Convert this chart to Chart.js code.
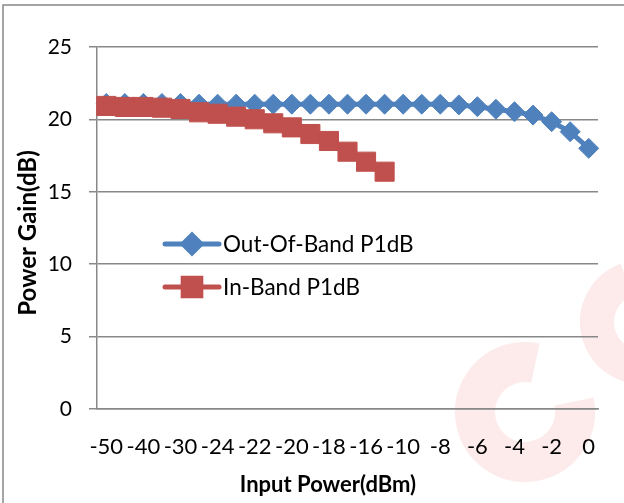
<!DOCTYPE html>
<html>
<head>
<meta charset="utf-8">
<script src="https://cdn.jsdelivr.net/npm/chart.js@4.4.0/dist/chart.umd.min.js"></script>
<style>
  html, body { margin: 0; padding: 0; background: #fff; }
  canvas { display: block; }
</style>
</head>
<body>
<canvas id="chart" width="624" height="503"></canvas>
<script>
// category labels, Excel shows every second one
const xLabels = [
  '-50', '', '-40', '', '-30', '', '-24', '', '-22', '', '-20', '', '-18', '',
  '-16', '', '-10', '', '-8', '', '-6', '', '-4', '', '-2', '', '0'
];
const outOfBand = [
  21.1, 21.1, 21.1, 21.1, 21.1, 21.05, 21.05, 21.05, 21.05, 21.05, 21.05, 21.05, 21.05, 21.05,
  21.05, 21.05, 21.05, 21.05, 21.05, 21.0, 20.88, 20.7, 20.53, 20.3, 19.84, 19.15, 18.0
];
const inBand = [
  20.93, 20.86, 20.86, 20.81, 20.72, 20.49, 20.39, 20.19, 20.01, 19.73, 19.45, 18.99,
  18.51, 17.77, 17.08, 16.39
];
const yTicks = [ 0, 5, 10, 15, 20, 25 ];

const BLUE = '#4F81BD';
const RED = '#C0504D';
const GRID = '#888888';

Chart.defaults.font.family = 'Lato';
Chart.defaults.color = '#000';

const frame = {
  id: 'frame',
  beforeDraw(chart) {
    const ctx = chart.ctx;
    ctx.save();
    // watermark behind the plot
    ctx.strokeStyle = 'rgba(246,170,170,0.25)';
    ctx.lineWidth = 40;
    ctx.beginPath();
    ctx.arc(525, 412, 50, -12 * Math.PI / 180, 282 * Math.PI / 180);
    ctx.stroke();
    ctx.lineWidth = 34;
    ctx.beginPath();
    ctx.arc(642, 322, 45, 70 * Math.PI / 180, 250 * Math.PI / 180);
    ctx.stroke();
    ctx.strokeStyle = GRID;
    ctx.lineWidth = 1.5;
    ctx.strokeRect(3, 5, 700, 600);
    ctx.restore();
  },
  afterDraw(chart) {
    const ctx = chart.ctx;
    ctx.save();
    ctx.fillStyle = '#000';
    ctx.textAlign = 'center';
    ctx.textBaseline = 'middle';
    ctx.font = 'bold 22px Lato';
    ctx.fillText('Input Power(dBm)', 328, 485);
    ctx.translate(28, 233);
    ctx.rotate(-Math.PI / 2);
    ctx.font = 'bold 24px Lato';
    ctx.fillText('Power Gain(dB)', 0, 0);
    ctx.restore();
  }
};

const insideLegend = {
  id: 'insideLegend',
  afterDraw(chart) {
    const ctx = chart.ctx;
    const rows = [ 244, 287 ];
    ctx.save();
    chart.data.datasets.forEach(function(ds, i) {
      const y = rows[i];
      ctx.strokeStyle = ds.borderColor;
      ctx.lineWidth = 5;
      ctx.lineCap = 'round';
      ctx.beginPath();
      ctx.moveTo(165, y);
      ctx.lineTo(219, y);
      ctx.stroke();
      ctx.fillStyle = ds.pointBackgroundColor;
      ctx.strokeStyle = ds.pointBorderColor;
      Chart.helpers.drawPoint(ctx, {
        pointStyle: ds.pointStyle,
        radius: ds.legendRadius,
        rotation: 0,
        borderWidth: 1
      }, 192, y);
      ctx.fillStyle = '#000';
      ctx.font = '22.5px Lato';
      ctx.textAlign = 'left';
      ctx.textBaseline = 'middle';
      ctx.fillText(ds.label, 223, y + 1);
    });
    ctx.restore();
  }
};

new Chart(document.getElementById('chart'), {
  type: 'line',
  data: {
    labels: xLabels,
    datasets: [
      {
        label: 'Out-Of-Band P1dB',
        data: outOfBand,
        borderColor: BLUE,
        backgroundColor: BLUE,
        pointBackgroundColor: BLUE,
        pointBorderColor: BLUE,
        borderWidth: 5,
        pointStyle: 'rectRot',
        pointRadius: 10,
        pointBorderWidth: 1,
        legendRadius: 9,
        tension: 0,
        order: 1
      },
      {
        label: 'In-Band P1dB',
        data: inBand,
        borderColor: RED,
        backgroundColor: RED,
        pointBackgroundColor: RED,
        pointBorderColor: RED,
        borderWidth: 5,
        pointStyle: 'rect',
        pointRadius: 13.5,
        pointBorderWidth: 1,
        legendRadius: 12.5,
        tension: 0,
        order: 0
      }
    ]
  },
  options: {
    responsive: false,
    animation: false,
    devicePixelRatio: 1,
    layout: {
      padding: { left: 0, top: 47, right: 26, bottom: 0 }
    },
    plugins: {
      legend: { display: false },
      tooltip: { enabled: false }
    },
    scales: {
      x: {
        offset: true,
        grid: { display: false },
        border: { display: true, color: GRID, width: 1.5 },
        ticks: {
          autoSkip: false,
          maxRotation: 0,
          padding: 17,
          font: { size: 22 }
        },
        afterFit(scale) {
          scale.height = 94;
        }
      },
      y: {
        min: 0,
        max: 25,
        afterBuildTicks(scale) {
          scale.ticks = yTicks.map(function(v) { return { value: v }; });
        },
        grid: {
          color: GRID,
          lineWidth: 1.5,
          drawTicks: true,
          tickLength: 8
        },
        border: { display: true, color: GRID, width: 1.5 },
        ticks: {
          padding: 17,
          font: { size: 21 }
        },
        afterFit(scale) {
          scale.width = 97;
        }
      }
    }
  },
  plugins: [ frame, insideLegend ]
});
</script>
</body>
</html>
